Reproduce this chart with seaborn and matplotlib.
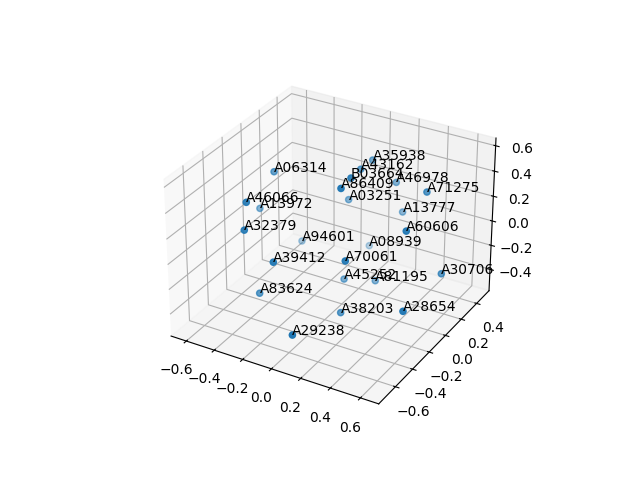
import matplotlib
matplotlib.use("Agg")
import matplotlib.pyplot as plt
import seaborn as sns

labels = ["A35938", "A43162", "B03664", "A86409", "A46978", "A71275", "A03251", "A13777",
          "A60606", "A06314", "A46066", "A13972", "A32379", "A94601", "A08939", "A39412",
          "A70061", "A45252", "A81195", "A30706", "A83624", "A38203", "A28654", "A29238"]
xs = [0.001, 0.008, 0.134, 0.151, 0.105, 0.441, -0.124, 0.157,
      0.517, -0.443, -0.363, -0.586, -0.332, -0.466, -0.133, -0.110,
      0.252, 0.003, 0.144, 0.614, -0.305, 0.147, 0.641, 0.145]
ys = [0.355, 0.201, -0.124, -0.264, 0.466, 0.239, 0.283, 0.459,
      -0.142, -0.054, -0.473, 0.000, -0.546, 0.286, 0.555, -0.584,
      -0.382, 0.020, 0.155, 0.125, -0.441, -0.258, -0.386, -0.787]
zs = [0.386, 0.401, 0.555, 0.561, 0.175, 0.334, 0.068, -0.047,
      0.278, 0.386, 0.412, 0.014, 0.249, -0.391, -0.484, 0.096,
      0.103, -0.384, -0.435, -0.194, -0.312, -0.429, -0.154, -0.255]

fig = plt.figure(figsize=(6.4, 4.8), dpi=100)
ax = fig.add_subplot(projection="3d")

# tab10 blue, depth shading does the rest
ax.scatter(xs, ys, zs, color=sns.color_palette("tab10")[0])
for name, x, y, z in zip(labels, xs, ys, zs):
    ax.text(x, y, z, name)

ax.set_xlim(-0.71, 0.72, view_margin=0)
ax.set_ylim(-0.79, 0.565, view_margin=0)
ax.set_zlim(-0.58, 0.66, view_margin=0)

fig.savefig("out.png", dpi=100)
